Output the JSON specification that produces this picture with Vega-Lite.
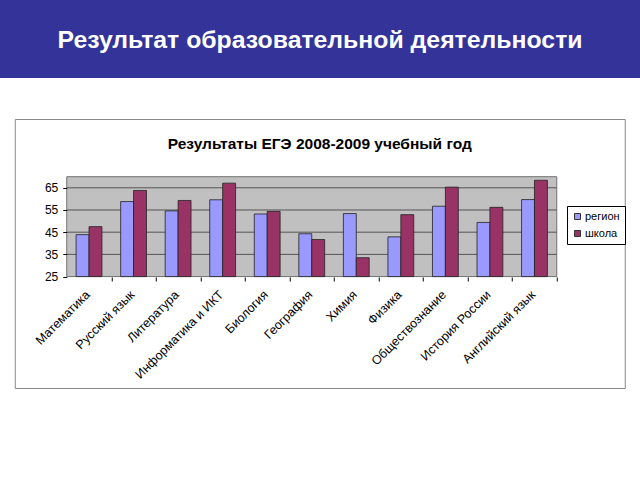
{
  "$schema": "https://vega.github.io/schema/vega-lite/v6.json",
  "padding": 0,
  "background": "white",
  "spacing": 40,
  "center": true,
  "config": {"font": "Liberation Sans"},
  "vconcat": [
    {
      "width": 640,
      "height": 78,
      "view": {"fill": "#333399", "stroke": null},
      "data": {"values": [{"t": "Результат образовательной деятельности"}]},
      "mark": {"type": "text", "font": "Liberation Sans", "fontWeight": "bold", "fontSize": 24.8, "color": "white", "baseline": "alphabetic", "align": "center", "dy": 9},
      "encoding": {"text": {"field": "t"}}
    },
    {
      "width": 610,
      "height": 269,
      "view": {"fill": "white", "stroke": "#888888", "strokeWidth": 1},
      "title": {"text": "Результаты ЕГЭ  2008-2009 учебный год", "offset": -33, "fontSize": 15.5, "fontWeight": "bold", "font": "Liberation Sans", "color": "#000000", "anchor": "middle"},
      "resolve": {"scale": {"x": "independent"}},
      "layer": [
        {
          "data": {"values": [{}]},
          "mark": {"type": "rect", "fill": "#C0C0C0", "stroke": "#707070", "strokeWidth": 1},
          "encoding": {
            "x": {"datum": 0, "type": "quantitative", "scale": {"domain": [0, 1], "range": [52, 542], "nice": false, "zero": false}, "axis": null},
            "x2": {"datum": 1},
            "y": {"datum": 25, "type": "quantitative", "scale": {"domain": [-25.2, 96], "nice": false, "zero": false},
              "axis": {"title": null, "offset": -52, "domain": false, "grid": false, "values": [25, 35, 45, 55, 65], "tickSize": 4, "tickColor": "#000000", "labelPadding": 5, "labelFontSize": 12, "labelColor": "#000000", "labelFont": "Liberation Sans", "zindex": 1}},
            "y2": {"datum": 70}
          }
        },
        {
          "data": {"values": [{}]},
          "mark": {"type": "rule", "color": "#555555", "strokeWidth": 1},
          "encoding": {
            "x": {"datum": 0, "type": "quantitative", "scale": {"domain": [0, 1], "range": [52, 542], "nice": false, "zero": false}, "axis": null},
            "x2": {"datum": 1},
            "y": {"datum": 35, "type": "quantitative"}
          }
        },
        {
          "data": {"values": [{}]},
          "mark": {"type": "rule", "color": "#555555", "strokeWidth": 1},
          "encoding": {
            "x": {"datum": 0, "type": "quantitative", "scale": {"domain": [0, 1], "range": [52, 542], "nice": false, "zero": false}, "axis": null},
            "x2": {"datum": 1},
            "y": {"datum": 45, "type": "quantitative"}
          }
        },
        {
          "data": {"values": [{}]},
          "mark": {"type": "rule", "color": "#555555", "strokeWidth": 1},
          "encoding": {
            "x": {"datum": 0, "type": "quantitative", "scale": {"domain": [0, 1], "range": [52, 542], "nice": false, "zero": false}, "axis": null},
            "x2": {"datum": 1},
            "y": {"datum": 55, "type": "quantitative"}
          }
        },
        {
          "data": {"values": [{}]},
          "mark": {"type": "rule", "color": "#555555", "strokeWidth": 1},
          "encoding": {
            "x": {"datum": 0, "type": "quantitative", "scale": {"domain": [0, 1], "range": [52, 542], "nice": false, "zero": false}, "axis": null},
            "x2": {"datum": 1},
            "y": {"datum": 65, "type": "quantitative"}
          }
        },
        {
          "data": {"values": [
            {"subject": "Математика", "series": "регион", "value": 43.9},
            {"subject": "Математика", "series": "школа", "value": 47.5},
            {"subject": "Русский язык", "series": "регион", "value": 58.8},
            {"subject": "Русский язык", "series": "школа", "value": 63.8},
            {"subject": "Литература", "series": "регион", "value": 54.6},
            {"subject": "Литература", "series": "школа", "value": 59.3},
            {"subject": "Информатика и ИКТ", "series": "регион", "value": 59.6},
            {"subject": "Информатика и ИКТ", "series": "школа", "value": 67.1},
            {"subject": "Биология", "series": "регион", "value": 53.2},
            {"subject": "Биология", "series": "школа", "value": 54.4},
            {"subject": "География", "series": "регион", "value": 44.3},
            {"subject": "География", "series": "школа", "value": 41.7},
            {"subject": "Химия", "series": "регион", "value": 53.4},
            {"subject": "Химия", "series": "школа", "value": 33.5},
            {"subject": "Физика", "series": "регион", "value": 42.9},
            {"subject": "Физика", "series": "школа", "value": 52.9},
            {"subject": "Обществознание", "series": "регион", "value": 56.7},
            {"subject": "Обществознание", "series": "школа", "value": 65.3},
            {"subject": "История России", "series": "регион", "value": 49.4},
            {"subject": "История России", "series": "школа", "value": 56.2},
            {"subject": "Английский язык", "series": "регион", "value": 59.7},
            {"subject": "Английский язык", "series": "школа", "value": 68.4}
          ]},
          "mark": {"type": "bar", "stroke": "#222222", "strokeWidth": 0.8},
          "encoding": {
            "x": {
              "field": "subject", "type": "nominal", "sort": null,
              "scale": {"range": [52, 542], "paddingInner": 0.42, "paddingOuter": 0.21},
              "axis": {"title": null, "offset": -111, "domain": false, "tickOffset": 22.27, "labelOffset": -28.27, "tickSize": 4, "tickColor": "#000000", "labelAngle": -45, "labelFontSize": 12.5, "labelColor": "#000000", "labelPadding": 7, "labelFont": "Liberation Sans", "zindex": 1}
            },
            "xOffset": {"field": "series", "type": "nominal", "sort": ["регион", "школа"], "scale": {"paddingInner": 0, "paddingOuter": 0}},
            "y": {"field": "value", "type": "quantitative"},
            "y2": {"datum": 25},
            "color": {
              "field": "series", "type": "nominal",
              "scale": {"domain": ["регион", "школа"], "range": ["#9999FF", "#993366"]},
              "legend": {"title": null, "orient": "none", "legendX": 567, "legendY": 206, "strokeColor": "#000000", "padding": 5, "fillColor": "white", "symbolType": "square", "symbolSize": 36, "symbolStrokeColor": "#333333", "symbolStrokeWidth": 1, "labelFontSize": 11, "labelFont": "Liberation Sans", "labelColor": "#000000", "rowPadding": 5, "labelOffset": 2}
            }
          }
        }
      ]
    }
  ]
}
